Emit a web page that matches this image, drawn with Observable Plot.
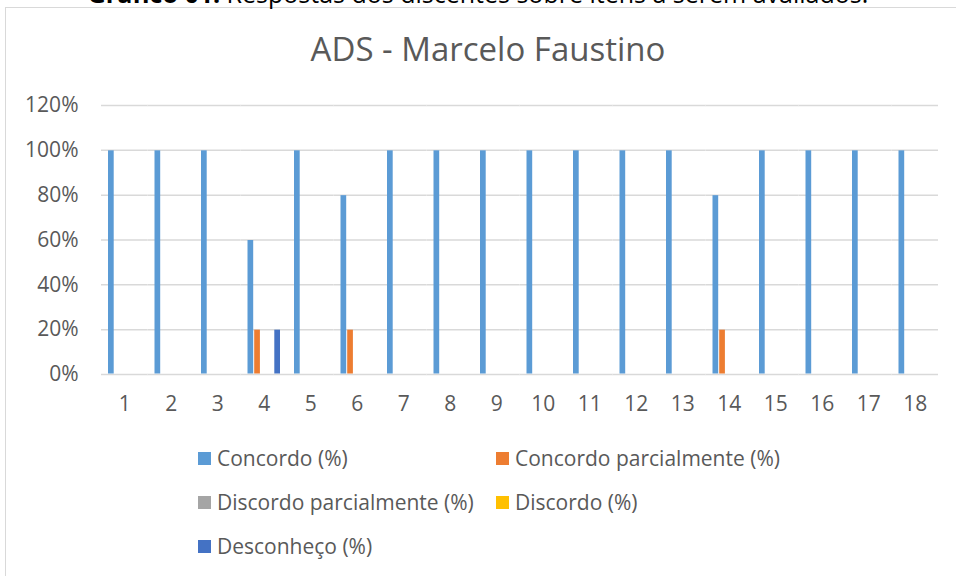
<!DOCTYPE html>
<html><head><meta charset="utf-8">
<script src="https://cdn.jsdelivr.net/npm/d3@7"></script>
<script src="https://cdn.jsdelivr.net/npm/@observablehq/plot@0.6"></script>
<style>
body{margin:0;background:#fff;font-family:"Open Sans",sans-serif;}
#wrap{position:relative;width:956px;height:576px;overflow:hidden;background:#fff;}
#frame{position:absolute;left:5px;top:7px;width:980px;height:620px;border:1.5px solid #d9d9d9;box-sizing:border-box;}
#caption{position:absolute;top:-22px;left:0;width:956px;text-align:center;font-size:25px;line-height:30px;color:#000;white-space:nowrap;}
#title{position:absolute;top:26px;left:0;width:976px;text-align:center;font-size:33px;line-height:45px;color:#595959;}
#chart{position:absolute;left:0;top:0;}
.lg{position:absolute;display:flex;align-items:center;font-size:21px;color:#595959;white-space:nowrap;line-height:28px;}
.lg span.sw{display:inline-block;width:13px;height:13px;margin-right:6px;}
</style></head>
<body>
<div id="wrap">
  <div id="frame"></div>
  <div id="caption"><b>Gráfico 01:</b> Respostas dos discentes sobre itens a serem avaliados.</div>
  <div id="title">ADS - Marcelo Faustino</div>
  <div id="chart"></div>
</div>
<script>
const categories = ["1","2","3","4","5","6","7","8","9","10","11","12","13","14","15","16","17","18"];
const seriesNames = ["Concordo (%)","Concordo parcialmente (%)","Discordo parcialmente (%)","Discordo (%)","Desconheço (%)"];
const colors = ["#5B9BD5","#ED7D31","#A5A5A5","#FFC000","#4472C4"];
const concordo =        [100,100,100,60,100,80,100,100,100,100,100,100,100,80,100,100,100,100];
const concordoParcial = [0,0,0,20,0,20,0,0,0,0,0,0,0,20,0,0,0,0];
const discordoParcial = [0,0,0,0,0,0,0,0,0,0,0,0,0,0,0,0,0,0];
const discordo =        [0,0,0,0,0,0,0,0,0,0,0,0,0,0,0,0,0,0];
const desconheco =      [0,0,0,20,0,0,0,0,0,0,0,0,0,0,0,0,0,0];
const yTicks = [0,0.2,0.4,0.6,0.8,1.0,1.2];

const seriesValues = [concordo, concordoParcial, discordoParcial, discordo, desconheco];
const data = categories.flatMap((c,i)=>seriesNames.map((s,j)=>({item:c, series:s, value:seriesValues[j][i]/100})));

const chart = Plot.plot({
  width:956, height:420,
  marginTop:105, marginBottom:46, marginLeft:101, marginRight:18,
  style:{fontFamily:"Open Sans", fontSize:"21px", color:"#595959", background:"transparent", overflow:"visible"},
  fx:{domain:categories, padding:0, label:null, round:false},
  x:{domain:seriesNames, axis:null, paddingInner:0, paddingOuter:0.97, round:false},
  y:{domain:[0,1.2], ticks:yTicks, tickFormat:d3.format(".0%"), label:null, tickSize:0, tickPadding:23},
  color:{domain:seriesNames, range:colors},
  marks:[
    Plot.ruleY(yTicks,{stroke:"#d9d9d9", strokeWidth:1.5}),
    Plot.barY(data,{fx:"item", x:"series", y:"value", fill:"series", inset:0.5}),
    Plot.axisFx({anchor:"bottom", tickSize:0, tickPadding:22, label:null})
  ]
});
document.getElementById("chart").appendChild(chart);

const pos = [[198,444],[496,444],[198,488],[496,488],[198,532]];
const wrap = document.getElementById("wrap");
seriesNames.forEach((s,i)=>{
  const d = document.createElement("div");
  d.className="lg";
  d.style.left=pos[i][0]+"px"; d.style.top=pos[i][1]+"px";
  d.innerHTML=`<span class="sw" style="background:${colors[i]}"></span>${s}`;
  wrap.appendChild(d);
});
</script>
</body></html>
